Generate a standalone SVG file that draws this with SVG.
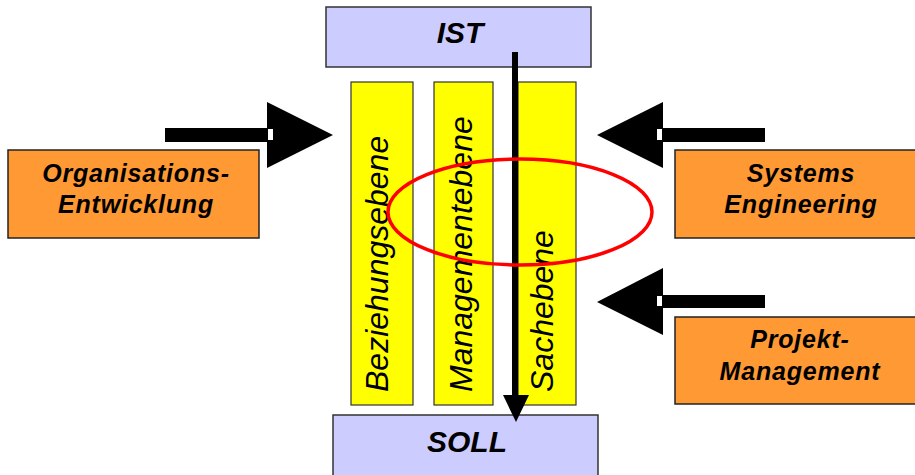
<svg xmlns="http://www.w3.org/2000/svg" width="915" height="475" viewBox="0 0 915 475">
<style>
.state{fill:#ccccff;stroke:#333;stroke-width:1.5}
.col{fill:#ffff00;stroke:#333;stroke-width:1.2}
.disc{fill:#ff9933;stroke:#222;stroke-width:1.5}
.bt{font-family:"Liberation Sans",Arial,sans-serif;font-weight:bold;font-style:italic;fill:#000}
.st{font-size:30px;text-anchor:middle}
.ot{font-size:25px;letter-spacing:0.8px;text-anchor:middle}
.ct{font-family:"Liberation Sans",Arial,sans-serif;font-style:italic;font-size:32px;fill:#000}
.arr{fill:#000}
</style>
<rect width="915" height="475" fill="#fff"/>
<g id="ist"><rect class="state" x="326" y="7" width="265" height="60"/><text class="bt st" x="460" y="43">IST</text></g>
<g id="soll"><rect class="state" x="333" y="415" width="265" height="70"/><text class="bt st" x="467" y="452">SOLL</text></g>
<g id="beziehungsebene"><rect class="col" x="351" y="82" width="62" height="323"/><text class="ct" transform="translate(388,392) rotate(-90)">Beziehungsebene</text></g>
<g id="managementebene"><rect class="col" x="434" y="82" width="59" height="323"/><text class="ct" transform="translate(472,392) rotate(-90)">Managementebene</text></g>
<g id="sachebene"><rect class="col" x="518" y="82" width="58" height="323"/><text class="ct" transform="translate(553,392) rotate(-90)">Sachebene</text></g>
<g id="organisationsentwicklung"><rect class="disc" x="8" y="150" width="251" height="88"/><text class="bt ot" x="136" y="182">Organisations-</text><text class="bt ot" x="136" y="213">Entwicklung</text></g>
<g id="systems-engineering"><rect class="disc" x="675" y="150" width="250" height="88"/><text class="bt ot" x="801" y="182">Systems</text><text class="bt ot" x="801" y="213">Engineering</text></g>
<g id="projekt-management"><rect class="disc" x="675" y="317" width="250" height="87"/><text class="bt ot" x="800" y="348">Projekt-</text><text class="bt ot" x="800" y="380">Management</text></g>
<g id="connectors">
<line x1="515" y1="52" x2="515" y2="397" stroke="#000" stroke-width="6"/>
<polygon class="arr" points="503,395 529,395 516,422"/>
<rect class="arr" x="165" y="128" width="108" height="14"/>
<polygon class="arr" points="267,102 333,135 267,168"/>
<rect x="268" y="129" width="5" height="11" fill="#fff"/>
<rect class="arr" x="657" y="128" width="108" height="14"/>
<polygon class="arr" points="663,102 597,135 663,168"/>
<rect x="657" y="129" width="5" height="11" fill="#fff"/>
<rect class="arr" x="657" y="295" width="108" height="13"/>
<polygon class="arr" points="663,268 597,302 663,335"/>
<rect x="657" y="296" width="5" height="10" fill="#fff"/>
</g>
<g id="focus"><ellipse cx="520" cy="212" rx="132" ry="53" fill="none" stroke="#ff0000" stroke-width="3.5"/></g>
</svg>
